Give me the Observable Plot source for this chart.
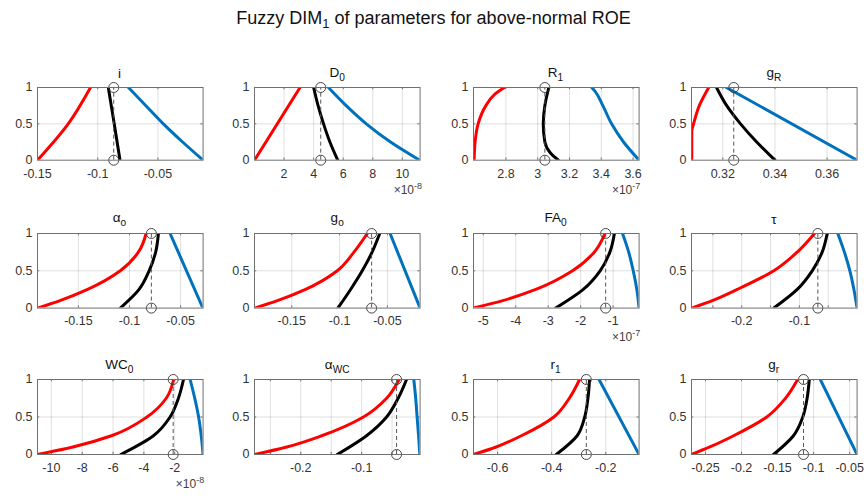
<!DOCTYPE html>
<html>
<head>
<meta charset="utf-8">
<script src="https://cdn.jsdelivr.net/npm/d3@7"></script>
<script src="https://cdn.jsdelivr.net/npm/@observablehq/plot@0.6"></script>
<style>
  html, body { margin: 0; padding: 0; background: #fff; }
  #wrap { position: relative; width: 867px; height: 497px; font-family: "Liberation Sans", Arial, Helvetica, sans-serif; overflow: hidden; }
  #wrap svg { position: absolute; }
  .ttl { position: absolute; text-align: center; color: #111; font-size: 13.5px; line-height: 1.1; white-space: nowrap; }
  .ttl sub { font-size: 0.75em; vertical-align: -0.35em; }
  .expo { position: absolute; color: #404040; font-size: 12px; white-space: nowrap; }
  .expo sup { font-size: 0.75em; vertical-align: 0.55em; }
  #main { position: absolute; left: 0; width: 867px; top: 8px; text-align: center; font-size: 18px; color: #111; }
  #main sub { font-size: 0.72em; vertical-align: -0.3em; }
</style>
</head>
<body>
<div id="wrap">
  <div id="main">Fuzzy DIM<sub>1</sub> of parameters for above-normal ROE</div>
</div>
<script>
// ---------- data ----------
const titles = ["i", "D<sub>0</sub>", "R<sub>1</sub>", "g<sub>R</sub>",
                "α<sub>o</sub>", "g<sub>o</sub>", "FA<sub>0</sub>", "τ",
                "WC<sub>0</sub>", "α<sub>WC</sub>", "r<sub>1</sub>", "g<sub>r</sub>"];

const exponents = [null, -8, -7, null, null, null, -7, null, -8, null, null, null];

const xDomains = [
  [-0.15, -0.0125], [0, 11.2], [2.596, 3.638], [0.308, 0.3715],
  [-0.19, -0.028], [-0.189, -0.0158], [-5.3, -0.2], [-0.287, 0],
  [-10.9, -0.16], [-0.276, -0.004], [-0.689, -0.077], [-0.2694, -0.0397]
];

const tickLabels = [
  [-0.15, -0.1, -0.05], [2, 4, 6, 8, 10], [2.8, 3, 3.2, 3.4, 3.6], [0.32, 0.34, 0.36],
  [-0.15, -0.1, -0.05], [-0.15, -0.1, -0.05], [-5, -4, -3, -2, -1], [-0.2, -0.1],
  [-10, -8, -6, -4, -2], [-0.2, -0.1], [-0.6, -0.4, -0.2], [-0.25, -0.2, -0.15, -0.1, -0.05]
];

const gridTicks = [
  [-0.15, -0.1, -0.05], [2, 4, 6, 8, 10], [2.8, 3, 3.2, 3.4, 3.6], [0.32, 0.34, 0.36],
  [-0.15, -0.1, -0.05], [-0.15, -0.1, -0.05], [-5, -4, -3, -2, -1], [-0.25, -0.2, -0.15, -0.1, -0.05],
  [-10, -8, -6, -4, -2], [-0.25, -0.2, -0.15, -0.1, -0.05], [-0.6, -0.4, -0.2], [-0.25, -0.2, -0.15, -0.1, -0.05]
];

// red (lower), black (estimate), blue (upper) curves as [x, membership]
const redCurves = [
  [[-0.15,0],[-0.1245,0.5],[-0.106,1]],
  [[0,0],[3.08,1]],
  [[2.6,0],[2.606,0.25],[2.625,0.5],[2.674,0.75],[2.726,0.9],[2.79,1]],
  [[0.3081,0],[0.3081,0.4],[0.3088,0.5],[0.311,0.75],[0.3146,1]],
  [[-0.19,0],[-0.168,0.1],[-0.141,0.25],[-0.109,0.5],[-0.0913,0.75],[-0.0837,1]],
  [[-0.189,0],[-0.165,0.1],[-0.1356,0.25],[-0.1024,0.5],[-0.085,0.75],[-0.071,1]],
  [[-5.3,0],[-4.4,0.1],[-3.38,0.25],[-2.25,0.5],[-1.58,0.75],[-1.25,1]],
  [[-0.287,0],[-0.251,0.1],[-0.2078,0.25],[-0.1444,0.5],[-0.1038,0.75],[-0.0738,1]],
  [[-10.9,0],[-8.6,0.1],[-6.1,0.25],[-3.8,0.5],[-2.55,0.75],[-2.07,1]],
  [[-0.276,0],[-0.223,0.1],[-0.1656,0.25],[-0.097,0.5],[-0.059,0.75],[-0.0384,1]],
  [[-0.689,0],[-0.605,0.1],[-0.512,0.25],[-0.392,0.5],[-0.335,0.75],[-0.297,1]],
  [[-0.2694,0],[-0.244,0.1],[-0.211,0.25],[-0.165,0.5],[-0.139,0.75],[-0.1222,1]]
];

const blackCurves = [
  [[-0.0815,0],[-0.0863,0.5],[-0.0912,1]],
  [[5.63,0],[5.1,0.25],[4.67,0.5],[4.3,0.75],[4.0,1]],
  [[3.13,0],[3.08,0.1],[3.045,0.25],[3.035,0.5],[3.045,0.75],[3.07,1]],
  [[0.34,0],[0.333,0.25],[0.3268,0.5],[0.3215,0.75],[0.3176,1]],
  [[-0.109,0],[-0.0906,0.25],[-0.0808,0.5],[-0.0744,0.75],[-0.0717,1]],
  [[-0.1018,0],[-0.0885,0.25],[-0.0763,0.5],[-0.066,0.75],[-0.058,1]],
  [[-2.77,0],[-1.92,0.25],[-1.40,0.5],[-1.1,0.75],[-0.96,1]],
  [[-0.1444,0],[-0.1038,0.25],[-0.0778,0.5],[-0.0605,0.75],[-0.0518,1]],
  [[-5.5,0],[-3.38,0.25],[-2.3,0.5],[-1.76,0.75],[-1.43,1]],
  [[-0.14,0],[-0.092,0.25],[-0.059,0.5],[-0.04,0.75],[-0.0262,1]],
  [[-0.383,0],[-0.306,0.25],[-0.278,0.5],[-0.266,0.75],[-0.26,1]],
  [[-0.1556,0],[-0.128,0.25],[-0.115,0.5],[-0.109,0.75],[-0.106,1]]
];

const blueCurves = [
  [[-0.0745,1],[-0.06,0.75],[-0.0455,0.5],[-0.0295,0.25],[-0.0125,0]],
  [[5.0,1],[6.2,0.75],[7.56,0.5],[9.2,0.25],[11.17,0]],
  [[3.34,1],[3.36,0.95],[3.41,0.75],[3.465,0.5],[3.54,0.25],[3.638,0]],
  [[0.3214,1],[0.3715,0]],
  [[-0.0603,1],[-0.0282,0]],
  [[-0.0472,1],[-0.0158,0]],
  [[-0.71,1],[-0.52,0.75],[-0.38,0.5],[-0.27,0.25],[-0.2,0]],
  [[-0.0334,1],[-0.022,0.75],[-0.0125,0.5],[-0.0055,0.25],[0,0]],
  [[-1.0,1],[-0.7,0.75],[-0.45,0.5],[-0.28,0.25],[-0.16,0]],
  [[-0.0143,1],[-0.0112,0.75],[-0.0089,0.5],[-0.0065,0.25],[-0.0044,0]],
  [[-0.225,1],[-0.077,0]],
  [[-0.0907,1],[-0.0397,0]]
];

const centers = [-0.0867, 4.48, 3.045, 0.3242, -0.0786, -0.0665, -1.23, -0.068, -2.1, -0.0426, -0.272, -0.114];

const yTicks = [0, 0.5, 1];

// ---------- layout ----------
const colLeft = [36.6, 254.4, 472.7, 691.0];
const plotW = 165.6;
const rowTop = [87.3, 232.7, 379.3];
const rowBot = [160.0, 307.3, 454.3];
const mL = 34, mR = 6, mT = 7, mB = 28;
const tickPx = 2.2;

const wrap = document.getElementById("wrap");
const font = '"Liberation Sans", Arial, Helvetica, sans-serif';
const byY = pts => [...pts].sort((a, b) => a[1] - b[1]);

for (let k = 0; k < 12; k++) {
  const r = Math.floor(k / 4), c = k % 4;
  const h = rowBot[r] - rowTop[r];
  const cx = centers[k];
  const [x0, x1] = xDomains[k];
  const tx = (x1 - x0) * tickPx / plotW;   // tick length in x data units
  const ty = tickPx / h;                   // tick length in y data units
  const lineOpts = (color) => ({x: d => d[0], y: d => d[1], stroke: color, strokeWidth: 3, curve: "monotone-y", clip: true});
  const svg = Plot.plot({
    width: mL + plotW + mR,
    height: mT + h + mB,
    marginLeft: mL, marginRight: mR, marginTop: mT, marginBottom: mB,
    style: {fontFamily: font, fontSize: "12.5px", color: "#333", background: "transparent", overflow: "visible"},
    x: {domain: xDomains[k]},
    y: {domain: [0, 1]},
    marks: [
      Plot.gridX(gridTicks[k], {stroke: "#000", strokeOpacity: 0.13}),
      Plot.gridY([0.5], {stroke: "#000", strokeOpacity: 0.13}),
      Plot.ruleX(gridTicks[k], {y1: 0, y2: ty, stroke: "#707070"}),
      Plot.ruleX(gridTicks[k], {y1: 1 - ty, y2: 1, stroke: "#707070"}),
      Plot.ruleY([0.5], {x1: x0, x2: x0 + tx, stroke: "#707070"}),
      Plot.ruleY([0.5], {x1: x1 - tx, x2: x1, stroke: "#707070"}),
      Plot.axisX(tickLabels[k], {tickSize: 0, tickPadding: 8.5, tickFormat: d => String(d), fontSize: 12.5}),
      Plot.axisY(yTicks, {tickSize: 0, tickPadding: 5, tickFormat: d => String(d), fontSize: 12.5}),
      Plot.line(byY(redCurves[k]), lineOpts("#ff0000")),
      Plot.line(byY(blueCurves[k]), lineOpts("#0072bd")),
      Plot.line(byY(blackCurves[k]), lineOpts("#000000")),
      Plot.ruleX([cx], {y1: 0, y2: 1, stroke: "#555", strokeWidth: 1, strokeDasharray: "4,3"}),
      Plot.dot([[cx, 0], [cx, 1]], {x: d => d[0], y: d => d[1], r: 5, stroke: "#333", strokeWidth: 0.9, fill: "none"}),
      Plot.frame({stroke: "#707070", strokeWidth: 1})
    ]
  });
  svg.style.left = (colLeft[c] - mL) + "px";
  svg.style.top = (rowTop[r] - mT) + "px";
  wrap.appendChild(svg);

  const t = document.createElement("div");
  t.className = "ttl";
  t.innerHTML = titles[k];
  t.style.left = (colLeft[c]) + "px";
  t.style.width = plotW + "px";
  t.style.bottom = (497 - rowTop[r] + 5) + "px";
  wrap.appendChild(t);

  if (exponents[k] !== null) {
    const e = document.createElement("div");
    e.className = "expo";
    e.innerHTML = "×10<sup>" + exponents[k] + "</sup>";
    e.style.right = (867 - (colLeft[c] + plotW) - 2) + "px";
    e.style.top = (rowBot[r] + 21) + "px";
    wrap.appendChild(e);
  }
}
</script>
</body>
</html>
